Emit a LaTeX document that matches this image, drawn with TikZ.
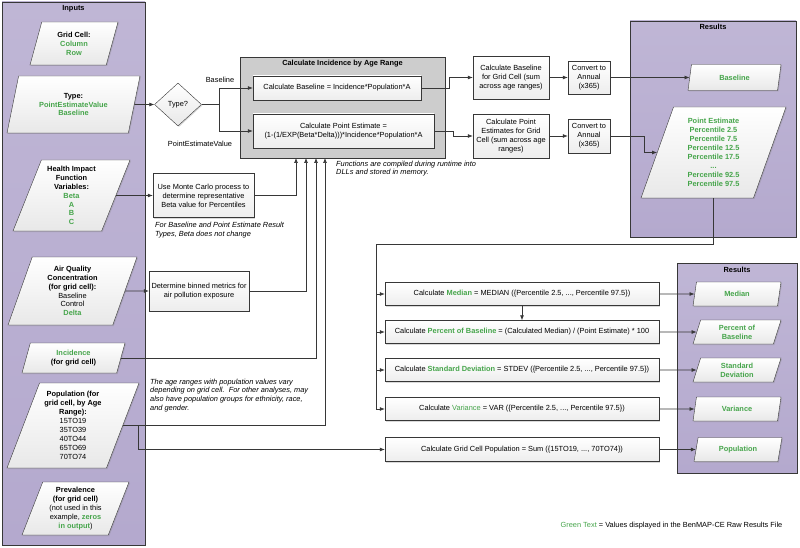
\documentclass[tikz,border=0pt]{standalone}
\usepackage{fontspec}
\setmainfont{Liberation Sans}
\usepackage{tikz}
\usetikzlibrary{shapes.geometric,arrows.meta,shadows}
\definecolor{benGreen}{RGB}{70,165,75}
\definecolor{lineDark}{RGB}{55,55,55}
\definecolor{groupPurple}{RGB}{180,169,206}
\definecolor{incGray}{RGB}{205,205,205}
\newcommand{\grn}[1]{\textcolor{benGreen}{\textbf{#1}}}

\begin{document}
\begin{tikzpicture}
[x=1pt,y=-1pt,font=\fontsize{7.4}{8.9}\selectfont,
 group/.style={rectangle,draw=lineDark,top color=groupPurple!85,bottom color=groupPurple,inner sep=0pt},
 para/.style={trapezium,trapezium left angle=65,trapezium right angle=115,trapezium stretches body,
   draw=lineDark,top color=white,bottom color=gray!18,align=center,inner sep=1pt,
   drop shadow={shadow xshift=1pt,shadow yshift=-1pt,opacity=0.3}},
 calc/.style={rectangle,draw=lineDark,top color=white,bottom color=gray!14,align=center,inner sep=1pt,
   drop shadow={shadow xshift=1pt,shadow yshift=-1pt,opacity=0.3}},
 note/.style={font=\fontsize{7.4}{8.9}\selectfont\itshape,align=left,anchor=north west,inner sep=0pt},
 arr/.style={draw=lineDark,line width=0.7pt,-{Latex[length=5pt,width=4pt]}},
 ln/.style={draw=lineDark,line width=0.7pt}]
\useasboundingbox (0,0) rectangle (800,548);

\node[group,minimum width=143pt,minimum height=543pt] (inputs) at (73.5,273.5) {};
\node (inputsT) at (73.5,9) {\textbf{Inputs}};
\node[group,minimum width=166pt,minimum height=216pt] (resTop) at (713,129) {};
\node (resTopT) at (713,27) {\textbf{Results}};
\node[group,minimum width=120pt,minimum height=210pt] (resBot) at (737,368) {};
\node (resBotT) at (737,270) {\textbf{Results}};

\node[para,minimum width=88pt,minimum height=43pt] (grid) at (74,43.5) {\textbf{Grid Cell:}\\\grn{Column}\\\grn{Row}};
\node[para,minimum width=133pt,minimum height=57pt] (type) at (73.5,104.5) {\textbf{Type:}\\\grn{PointEstimateValue}\\\grn{Baseline}};
\node[para,minimum width=117pt,minimum height=71pt] (hif) at (71.5,195.5) {\textbf{Health Impact}\\\textbf{Function}\\\textbf{Variables:}\\\grn{Beta}\\\grn{A}\\\grn{B}\\\grn{C}};
\node[para,minimum width=129pt,minimum height=68pt] (aq) at (72.5,291) {\textbf{Air Quality}\\\textbf{Concentration}\\\textbf{(for grid cell):}\\Baseline\\Control\\\grn{Delta}};
\node[para,minimum width=103pt,minimum height=30pt] (inc) at (73.5,358) {\grn{Incidence}\\\textbf{(for grid cell)}};
\node[para,minimum width=132pt,minimum height=85pt] (pop) at (73,425.5) {\textbf{Population (for}\\\textbf{grid cell, by Age}\\\textbf{Range):}\\15TO19\\35TO39\\40TO44\\65TO69\\70TO74};
\node[para,minimum width=107pt,minimum height=53pt] (prev) at (75.5,508.5) {\textbf{Prevalence}\\\textbf{(for grid cell)}\\(not used in this\\example, \grn{zeros}\\\grn{in output})};

\node[diamond,draw=lineDark,top color=white,bottom color=gray!18,minimum width=47pt,minimum height=43pt,inner sep=0pt,
  drop shadow={shadow xshift=1pt,shadow yshift=-1pt,opacity=0.3}] (typeq) at (178,104.5) {Type?};
\node (lblBase) at (220,80) {Baseline};
\node (lblPE) at (200,144) {PointEstimateValue};

\node[rectangle,draw=lineDark,fill=incGray,minimum width=205pt,minimum height=101pt,
  drop shadow={shadow xshift=1pt,shadow yshift=-1pt,opacity=0.3}] (calcinc) at (342.5,107.5) {};
\node (calcincT) at (342.5,64) {\textbf{Calculate Incidence by Age Range}};
\node[calc,minimum width=168pt,minimum height=24pt] (basecalc) at (337,88) {Calculate Baseline = Incidence*Population*A};
\node[calc,minimum width=181pt,minimum height=34pt] (pecalc) at (343.5,131) {Calculate Point Estimate =\\(1-(1/EXP(Beta*Delta)))*Incidence*Population*A};

\node[calc,minimum width=101pt,minimum height=44pt] (mcbox) at (203.5,195.5) {Use Monte Carlo process to\\determine representative\\Beta value for Percentiles};
\node[calc,minimum width=100pt,minimum height=40pt] (binbox) at (199,291) {Determine binned metrics for\\air pollution exposure};

\node[note] (noteBeta) at (155,222) {For Baseline and Point Estimate Result\\Types, Beta does not change};
\node[note] (noteDll) at (336,160.5) {Functions are compiled during runtime into\\DLLs and stored in memory.};
\node[note] (noteAge) at (150,378.5) {The age ranges with population values vary\\depending on grid cell.\ \ For other analyses, may\\also have population groups for ethnicity, race,\\and gender.};

\node[calc,minimum width=76pt,minimum height=43pt] (bgrid) at (511,77.5) {Calculate Baseline\\for Grid Cell (sum\\across age ranges)};
\node[calc,minimum width=42pt,minimum height=33pt] (conv1) at (589,77.5) {Convert to\\Annual\\(x365)};
\node[calc,minimum width=76pt,minimum height=44pt] (pegrid) at (511,136) {Calculate Point\\Estimates for Grid\\Cell (sum across age\\ranges)};
\node[calc,minimum width=42pt,minimum height=34pt] (conv2) at (589,136) {Convert to\\Annual\\(x365)};

\node[para,minimum width=93pt,minimum height=26pt] (rbase) at (734.5,77.5) {\grn{Baseline}};
\node[para,minimum width=145pt,minimum height=91pt] (rpe) at (713.5,152.5) {\grn{Point Estimate}\\\grn{Percentile 2.5}\\\grn{Percentile 7.5}\\\grn{Percentile 12.5}\\\grn{Percentile 17.5}\\\grn{...}\\\grn{Percentile 92.5}\\\grn{Percentile 97.5}};

\node[calc,minimum width=274pt,minimum height=23pt] (median) at (522,294) {Calculate \grn{Median} = MEDIAN (\{Percentile 2.5, ..., Percentile 97.5\})};
\node[calc,minimum width=274pt,minimum height=23pt] (pct) at (522,332) {Calculate \grn{Percent of Baseline} = (Calculated Median) / (Point Estimate) * 100};
\node[calc,minimum width=274pt,minimum height=23pt] (std) at (522,370) {Calculate \grn{Standard Deviation} = STDEV (\{Percentile 2.5, ..., Percentile 97.5\})};
\node[calc,minimum width=274pt,minimum height=23pt] (var) at (522,409) {Calculate \textcolor{benGreen}{Variance} = VAR (\{Percentile 2.5, ..., Percentile 97.5\})};
\node[calc,minimum width=274pt,minimum height=24pt] (popc) at (522,449.5) {Calculate Grid Cell Population = Sum (\{15TO19, ..., 70TO74\})};

\node[para,minimum width=88pt,minimum height=24pt] (rmed) at (737,294) {\grn{Median}};
\node[para,minimum width=88pt,minimum height=24pt] (rpct) at (737,332) {\grn{Percent of}\\\grn{Baseline}};
\node[para,minimum width=88pt,minimum height=24pt] (rstd) at (737,370) {\grn{Standard}\\\grn{Deviation}};
\node[para,minimum width=88pt,minimum height=24pt] (rvar) at (737,409) {\grn{Variance}};
\node[para,minimum width=88pt,minimum height=24pt] (rpop) at (738,449.5) {\grn{Population}};

\node (legend) at (671.5,526) {\textcolor{benGreen}{Green Text} = Values displayed in the BenMAP-CE Raw Results File};

\coordinate (tapA) at (296,158);
\coordinate (tapB) at (306,158);
\coordinate (tapC) at (316,158);
\coordinate (tapD) at (325,158);
\coordinate (popFork) at (138,425.5);
\coordinate (spine) at (376,244);

\draw[arr] (type.east) -- (typeq.west);
\draw[arr] (typeq.east) -- ++(18,0) |- (basecalc.west);
\draw[arr] (typeq.east) -- ++(18,0) |- (pecalc.west);
\draw[arr] (hif.east) -- (mcbox.west);
\draw[arr] (aq.east) -- (binbox.west);
\draw[arr] (mcbox.east) -| (tapA);
\draw[arr] (binbox.east) -| (tapB);
\draw[arr] (inc.east) -| (tapC);
\draw[arr] (pop.east) -| (tapD);
\draw[arr] (popFork) |- (popc.west);

\draw[arr] (basecalc.east) -- ++(28,0) |- (bgrid.west);
\draw[arr] (pecalc.east) -- ++(19,0) |- (pegrid.west);
\draw[arr] (bgrid) -- (conv1);
\draw[arr] (pegrid) -- (conv2);
\draw[arr] (conv1) -- (rbase);
\draw[arr] (conv2.east) -- ++(34,0) |- (rpe.west);

\draw[ln] (rpe.south) |- (spine) -- (spine |- var.west);
\foreach \n in {median,pct,std,var} \draw[arr] (spine |- \n.west) -- (\n.west);
\draw[arr] (median) -- (pct);
\foreach \n/\r in {median/rmed,pct/rpct,std/rstd,var/rvar,popc/rpop} \draw[arr] (\n.east) -- (\r.west);
\end{tikzpicture}
\end{document}
